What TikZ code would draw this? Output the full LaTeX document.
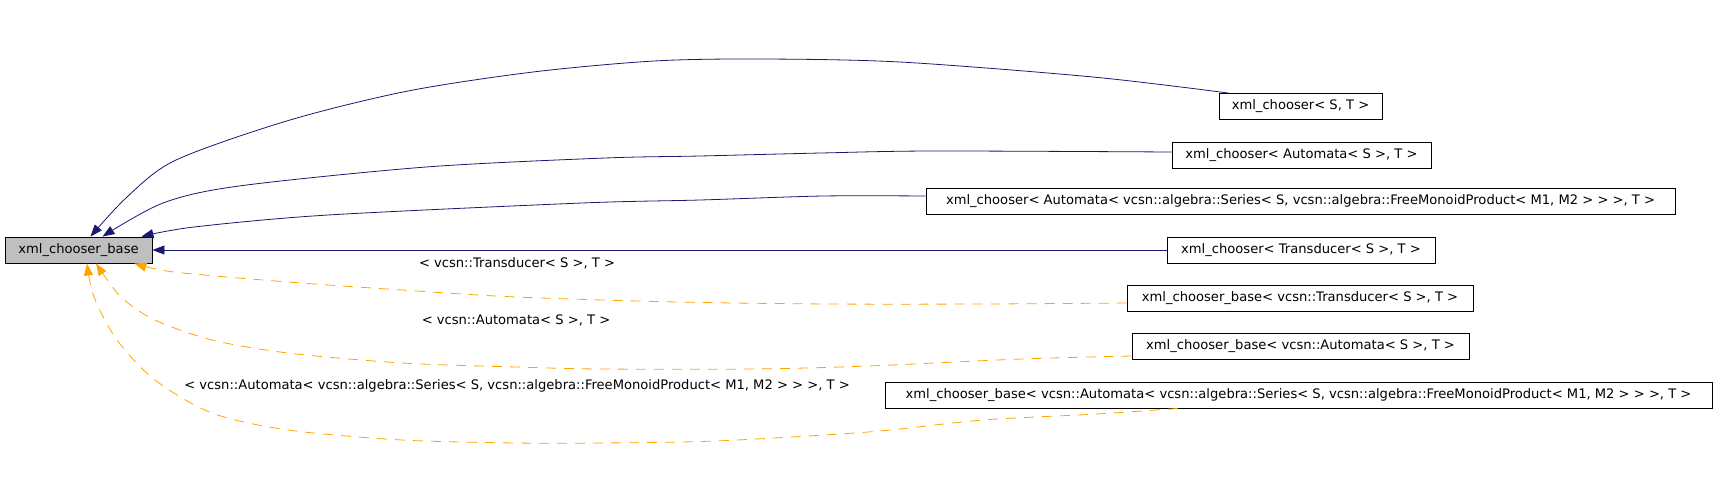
\documentclass[tikz,border=0pt]{standalone}
\usepackage{fontspec}
\setmainfont{DejaVu Sans}
\usetikzlibrary{arrows.meta}
\definecolor{edgeblue}{HTML}{191970}
\definecolor{edgeorange}{HTML}{FFA500}
\definecolor{basegray}{HTML}{BFBFBF}
\begin{document}
\begin{tikzpicture}[x=1pt,y=-1pt,
  every node/.style={font=\fontsize{13.1}{15}\selectfont, inner sep=0pt},
  classbox/.style={draw=black, line width=0.9pt, minimum height=26pt, fill=white},
  lbl/.style={},
  bluearrow/.style={draw=edgeblue, line width=0.8pt, -{Triangle[length=12pt,width=9pt]}},
  orangearrow/.style={draw=edgeorange, line width=0.8pt, dash pattern=on 10pt off 8pt, -{Triangle[length=12pt,width=9pt]}}
]
\useasboundingbox (0,0) rectangle (1720,488);

\node[classbox, fill=basegray, minimum width=147pt] (base) at (78.5,250) {xml\_chooser\_base};
\node[classbox, minimum width=163pt] (n1) at (1300.5,106.5) {xml\_chooser< S, T >};
\node[classbox, minimum width=259pt] (n2) at (1301.5,155.5) {xml\_chooser< Automata< S >, T >};
\node[classbox, minimum width=749pt] (n3) at (1300.5,201.5) {xml\_chooser< Automata< vcsn::algebra::Series< S, vcsn::algebra::FreeMonoidProduct< M1, M2 > > >, T >};
\node[classbox, minimum width=268pt] (n4) at (1301,250) {xml\_chooser< Transducer< S >, T >};
\node[classbox, minimum width=346pt] (n5) at (1300,298) {xml\_chooser\_base< vcsn::Transducer< S >, T >};
\node[classbox, minimum width=337pt] (n6) at (1300.5,346) {xml\_chooser\_base< vcsn::Automata< S >, T >};
\node[classbox, minimum width=827pt] (n7) at (1298.5,395) {xml\_chooser\_base< vcsn::Automata< vcsn::algebra::Series< S, vcsn::algebra::FreeMonoidProduct< M1, M2 > > >, T >};

\node[lbl] (l5) at (517,263) {< vcsn::Transducer< S >, T >};
\node[lbl] (l6) at (516,320) {< vcsn::Automata< S >, T >};
\node[lbl] (l7) at (517,386) {< vcsn::Automata< vcsn::algebra::Series< S, vcsn::algebra::FreeMonoidProduct< M1, M2 > > >, T >};

% blue edges
\draw[bluearrow] plot[smooth, tension=0.5] coordinates {([xshift=10pt]n1.north west) (1093,77) (900,62) (760,59) (654,61) (533,72) (408,91) (290,120) (176,160) (127,197) ([xshift=12pt]base.north)};
\draw[bluearrow] plot[smooth, tension=0.5] coordinates {([yshift=3.5pt]n2.west) (932,151) (821,153) (700,156) (605,158) (426,167) (239,186) (163,203) ([xshift=24pt]base.north)};
\draw[bluearrow] plot[smooth, tension=0.5] coordinates {([yshift=5.5pt]n3.west) (823,196) (700,200) (582,203) (328,215) (194,227) ([xshift=-11pt]base.north east)};
\draw[bluearrow] (n4.west) -- (base.east);

% orange edges
\draw[orangearrow] plot[smooth, tension=0.5] coordinates {([yshift=-5pt]n5.west) (983,304) (830,304) (677,302) (516,297) (402,290) (288,282) (174,272) ([xshift=-18pt]base.south east)};
\draw[orangearrow] plot[smooth, tension=0.5] coordinates {([yshift=-10pt]n6.west) (1021,359) (868,366) (753,369) (600,369) (516,367) (402,363) (288,353) (212,340) (155,320) (121,297) ([xshift=17.5pt]base.south)};
\draw[orangearrow] plot[smooth, tension=0.5] coordinates {([xshift=293pt]n7.south west) (1097,414) (983,420) (868,432) (715,441) (600,443) (516,443) (402,440) (288,430) (212,413) (155,380) (117,340) (94,297) ([xshift=8.5pt]base.south)};
\end{tikzpicture}
\end{document}
